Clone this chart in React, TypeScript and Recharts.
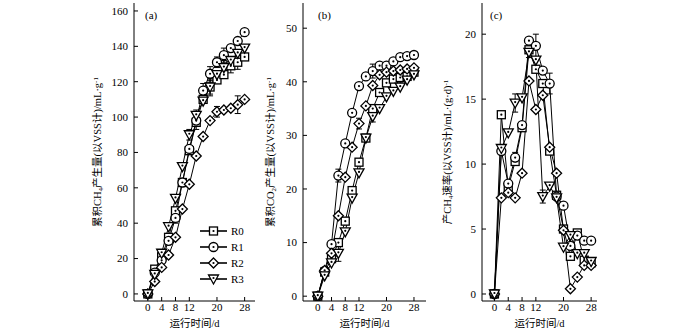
import React from "react";
import { LineChart, Line, XAxis, YAxis, ErrorBar, Legend } from "recharts";

const days = [0, 2, 4, 6, 8, 10, 12, 14, 16, 18, 20, 22, 24, 26, 28];
const seriesNames = ["R0", "R1", "R2", "R3"];
const xTicks = [0, 4, 8, 12, 16, 20, 24, 28];

// (a) cumulative CH4
const ch4R0 = [0, 14, 21, 32, 47, 63, 81, 97, 110, 117, 121, 124, 129, 131, 134];
const ch4R1 = [0, 12, 19, 30, 43, 63, 82, 98, 115, 124.5, 131, 135, 139, 143, 148];
const ch4R2 = [0, 7, 15, 22, 32, 48, 62, 78, 89, 98, 103, 104, 105, 107, 110];
const ch4R3 = [0, 11, 23, 38, 54, 72, 90, 101, 109, 117, 124, 128, 132, 136, 139];
const ch4E0 = [0, 0, 0, 0, 0, 0, 0, 4, 0, 5, 0, 0, 4, 4, 0];
const ch4E1 = [0, 0, 0, 0, 3, 0, 0, 0, 4, 4, 3, 4, 0, 0, 0];
const ch4E2 = [0, 0, 0, 0, 0, 0, 0, 0, 0, 0, 3, 0, 0, 5, 0];
const ch4E3 = [0, 0, 0, 0, 0, 0, 3, 3, 0, 4, 0, 4, 0, 0, 0];
const ch4Ticks = [0, 20, 40, 60, 80, 100, 120, 140, 160];

// (b) cumulative CO2
const co2R0 = [0, 4.5, 7, 10, 14, 19.7, 25, 29.5, 35, 38, 39.8, 40.5, 40.8, 41, 41.8];
const co2R1 = [0, 4.7, 9.7, 22.5, 28.5, 34.2, 39.2, 41, 42, 43, 43, 43.8, 44.6, 44.8, 45];
const co2R2 = [0, 4.8, 8, 15, 22.2, 27.8, 32.2, 35.5, 39.3, 41.3, 41.8, 42, 42.2, 42.4, 42.6];
const co2R3 = [0, 3.8, 6.2, 8, 12, 18.3, 23, 29.5, 33.5, 35, 37.2, 38.2, 39, 40.3, 41.3];
const co2E0 = [0, 0, 0, 0, 0, 0, 0, 0, 0, 0, 0, 0, 1, 0, 0];
const co2E1 = [0, 0, 0, 1.2, 0, 0, 0, 0, 1.3, 0, 0, 0, 0.6, 0, 0];
const co2E2 = [0, 0, 0, 0, 0, 0, 1, 0, 0, 0, 0, 0, 0, 0, 0];
const co2E3 = [0, 0, 0, 1.5, 0, 0, 0, 0, 1, 0, 0, 0, 0, 0, 0];
const co2Ticks = [0, 10, 20, 30, 40, 50];

// (c) CH4 production rate
const rateR0 = [0, 13.8, 8.2, 10.2, 12.8, 18.8, 17.3, 16.2, 11, 7.6, 5.0, 2.9, 4.7, 2.6, 2.4];
const rateR1 = [0, 11, 8.5, 10.5, 13, 19.5, 19.1, 17.2, 16.2, 7.5, 6.8, 3.7, 4.5, 4.1, 4.1];
const rateR2 = [0, 7.4, 7.8, 7.4, 9.3, 16.4, 14.2, 15.3, 11.3, 9.3, 4.9, 0.4, 1.3, 2.2, 2.2];
const rateR3 = [0, 11.2, 12.4, 14.7, 15.1, 18.6, 18, 7.5, 8.3, 7.4, 3.6, 4.5, 3.1, 3.1, 2.5];
const rateE0 = [0, 0, 0, 0, 0, 0.6, 0, 0, 0, 0, 0, 0, 0, 0, 0];
const rateE1 = [0, 0, 0, 0.4, 0, 0, 0.9, 0, 0.8, 0, 0, 0, 0, 0, 0];
const rateE2 = [0, 0, 0, 0, 0, 0, 0, 0, 0, 0, 0, 0, 0, 0, 0];
const rateE3 = [0, 0, 0, 0.7, 0, 0, 0, 0.5, 0, 0, 0, 0, 0, 0, 0];
const rateTicks = [0, 5, 10, 15, 20];

const font = "'Liberation Serif', 'Noto Sans CJK SC', serif";

function buildRows(vals: number[][], errs: number[][]) {
  return days.map((d, i) => ({
    day: d,
    r0: vals[0][i], r1: vals[1][i], r2: vals[2][i], r3: vals[3][i],
    e0: errs[0][i], e1: errs[1][i], e2: errs[2][i], e3: errs[3][i],
  }));
}

const ch4Data = buildRows([ch4R0, ch4R1, ch4R2, ch4R3], [ch4E0, ch4E1, ch4E2, ch4E3]);
const co2Data = buildRows([co2R0, co2R1, co2R2, co2R3], [co2E0, co2E1, co2E2, co2E3]);
const rateData = buildRows([rateR0, rateR1, rateR2, rateR3], [rateE0, rateE1, rateE2, rateE3]);

const shapes = ["square", "circle", "diamond", "triangle"];

function Marker({ cx, cy, shape }: { cx: number; cy: number; shape: string }) {
  const st = { fill: "#fff", stroke: "#000", strokeWidth: 1.3 };
  let body = null;
  let dotY = cy;
  if (shape === "square") body = <rect x={cx - 4} y={cy - 4} width={8} height={8} {...st} />;
  else if (shape === "circle") body = <circle cx={cx} cy={cy} r={4.5} {...st} />;
  else if (shape === "diamond")
    body = <polygon points={`${cx},${cy - 5} ${cx + 5},${cy} ${cx},${cy + 5} ${cx - 5},${cy}`} {...st} />;
  else {
    body = <polygon points={`${cx - 5},${cy - 4} ${cx + 5},${cy - 4} ${cx},${cy + 5}`} {...st} />;
    dotY = cy - 1;
  }
  return (
    <g>
      {body}
      <circle cx={cx} cy={dotY} r={1.1} fill="#000" />
    </g>
  );
}

function LegendBox() {
  return (
    <svg width={62} height={66}>
      {seriesNames.map((n, i) => {
        const y = 9 + i * 16;
        return (
          <g key={n}>
            <line x1={2} x2={29} y1={y} y2={y} stroke="#000" strokeWidth={1.6} />
            <Marker cx={15.5} cy={y} shape={shapes[i]} />
            <text x={33} y={y + 4} fontSize={11} fontFamily={font} fill="#000">
              {n}
            </text>
          </g>
        );
      })}
    </svg>
  );
}

interface PanelProps {
  left: number;
  width: number;
  data: any[];
  xDomain: [number, number];
  yDomain: [number, number];
  yTicks: number[];
  marginLeft: number;
  marginRight: number;
  labelX: number;
  label: React.ReactNode;
  tag: string;
  tagX: number;
  legend?: boolean;
}

function Panel(p: PanelProps) {
  const tickStyle = { fontSize: 11, fill: "#000", fontFamily: font };
  return (
    <div style={{ position: "absolute", left: p.left, top: 0 }}>
      <LineChart
        width={p.width}
        height={329}
        data={p.data}
        margin={{ top: 3, right: p.marginRight, left: p.marginLeft, bottom: 2 }}
      >
        <XAxis
          dataKey="day"
          type="number"
          domain={p.xDomain}
          ticks={xTicks}
          allowDataOverflow
          tick={tickStyle}
          tickSize={-4}
          tickMargin={6}
          stroke="#000"
          height={26}
          label={{ value: "运行时间/d", position: "insideBottom", offset: 0, fontSize: 10.5, fill: "#000", fontFamily: font }}
        />
        <XAxis xAxisId="top" orientation="top" type="number" domain={p.xDomain} allowDataOverflow tick={false} tickLine={false} height={0} stroke="#000" />
        <YAxis
          type="number"
          domain={p.yDomain}
          ticks={p.yTicks}
          allowDataOverflow
          tick={tickStyle}
          tickSize={-4}
          tickMargin={10}
          stroke="#000"
          width={30}
          label={{
            content: (props: any) => {
              const vb = props.viewBox || { y: 3, height: 298 };
              const cy = vb.y + vb.height / 2;
              return (
                <text transform={`translate(${p.labelX},${cy}) rotate(-90)`} textAnchor="middle" fontSize={10.5} fontFamily={font} fill="#000">
                  {p.label}
                </text>
              );
            },
          }}
        />
        <YAxis yAxisId="right" orientation="right" type="number" domain={p.yDomain} allowDataOverflow tick={false} tickLine={false} width={0} stroke="#000" />
        {["r0", "r1", "r2", "r3"].map((k, i) => (
          <Line
            key={k}
            dataKey={k}
            name={seriesNames[i]}
            stroke="#000"
            strokeWidth={1}
            isAnimationActive={false}
            dot={(d: any) => <Marker key={`${k}-${d.index}`} cx={d.cx} cy={d.cy} shape={shapes[i]} />}
          >
            <ErrorBar dataKey={`e${i}`} width={3} stroke="#000" strokeWidth={1} direction="y" />
          </Line>
        ))}
        {p.legend && (
          <Legend
            layout="vertical"
            align="center"
            verticalAlign="middle"
            wrapperStyle={{ left: 198, top: 222, width: 62 }}
            content={() => <LegendBox />}
          />
        )}
      </LineChart>
      <div style={{ position: "absolute", left: p.tagX, top: 9, fontSize: 11, fontFamily: font, lineHeight: "12px" }}>
        {p.tag}
      </div>
    </div>
  );
}

const sub = { fontSize: 7 };

export default function App() {
  return (
    <div style={{ position: "absolute", left: 0, top: 0, width: 700, height: 329, background: "#fff" }}>
      <Panel
        left={0}
        width={260}
        data={ch4Data}
        xDomain={[-4, 31]}
        yDomain={[-4, 164.5]}
        yTicks={ch4Ticks}
        marginLeft={104}
        marginRight={5}
        labelX={101}
        tag="(a)"
        tagX={145}
        legend
        label={
          <>
            <tspan>累积CH</tspan>
            <tspan dy={2} style={sub}>4</tspan>
            <tspan dy={-2}>产生量(以VSS计)/mL·g</tspan>
            <tspan dy={-3} style={sub}>-1</tspan>
          </>
        }
      />
      <Panel
        left={260}
        width={170}
        data={co2Data}
        xDomain={[-4.3, 31.5]}
        yDomain={[-0.9, 54.7]}
        yTicks={co2Ticks}
        marginLeft={13}
        marginRight={4}
        labelX={14}
        tag="(b)"
        tagX={58}
        label={
          <>
            <tspan>累积CO</tspan>
            <tspan dy={2} style={sub}>2</tspan>
            <tspan dy={-2}>产生量(以VSS计)/mL·g</tspan>
            <tspan dy={-3} style={sub}>-1</tspan>
          </>
        }
      />
      <Panel
        left={430}
        width={175}
        data={rateData}
        xDomain={[-3.6, 29.7]}
        yDomain={[-0.54, 22.4]}
        yTicks={rateTicks}
        marginLeft={22}
        marginRight={8}
        labelX={21}
        tag="(c)"
        tagX={60}
        label={
          <>
            <tspan>产CH</tspan>
            <tspan dy={2} style={sub}>4</tspan>
            <tspan dy={-2}>速率(以VSS计)/mL·(g·d)</tspan>
            <tspan dy={-3} style={sub}>-1</tspan>
          </>
        }
      />
    </div>
  );
}
